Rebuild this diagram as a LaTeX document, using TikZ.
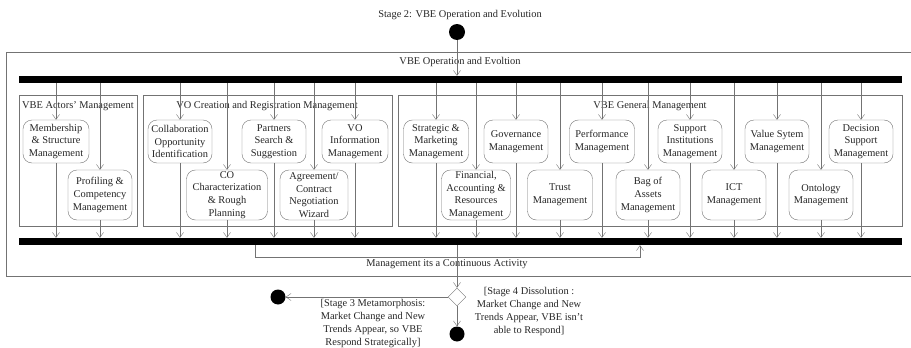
\documentclass[tikz,border=0pt]{standalone}
\usepackage{fontspec}
\setmainfont{Liberation Serif}
\usetikzlibrary{arrows.meta,shapes.geometric}
\tikzset{
  act/.style={draw=black!55, rounded corners=9pt, align=center, inner sep=0pt, minimum height=43pt, minimum width=64pt},
  low/.style={act, minimum height=50pt},
  grp/.style={draw=black!55, inner sep=0pt, minimum height=131pt},
  bar/.style={fill=black, inner sep=0pt, minimum width=883pt, minimum height=7pt},
  dot/.style={circle, fill=black, inner sep=0pt, minimum size=16pt},
  choice/.style={diamond, draw=black!55, inner sep=0pt, minimum width=18pt, minimum height=18pt},
  flow/.style={draw=black!55, -{Straight Barb[length=5pt,width=7pt]}},
  lbl/.style={align=center, inner sep=0pt}
}
\begin{document}
\begin{tikzpicture}[x=1pt, y=-1pt, font=\fontsize{10.4}{12.7}\selectfont, text=black!85]
	\useasboundingbox (0,0) rectangle (911,348);
	\draw[black!55] (920,52) -- (6,52) -- (6,276) -- (920,276);
	\node[lbl, anchor=base] at (460,17.5) (title) {Stage 2: VBE Operation and Evolution};
	\node[lbl, anchor=base] at (460,64.5) (frameT) {VBE Operation and Evoltion};
	\node[dot] at (457,32) (start) {};
	\node[bar] at (460.5,79.5) (fork) {};
	\node[bar] at (460.5,241.5) (join) {};
	\node[grp, minimum width=118pt] at (78,160.5) (actors) {};
	\node[grp, minimum width=249pt] at (267.5,160.5) (vo) {};
	\node[grp, minimum width=504pt] at (650,160.5) (gen) {};
	\node[lbl, anchor=base west] at (22,108) (actorsT) {VBE Actors' Management};
	\node[lbl, anchor=base] at (267,108) (voT) {VO Creation and Registration Management};
	\node[lbl, anchor=base] at (650,108) (genT) {VBE General Management};
	\node[act, minimum width=66pt] at (56,141.5) (m1) {Membership\\ \& Structure\\ Management};
	\node[low] at (100,195) (m2) {Profiling \&\\ Competency\\ Management};
	\node[act] at (180,141.5) (v1) {Collaboration\\ Opportunity\\ Identification};
	\node[low, minimum width=81pt] at (227,195) (v2) {CO\\ Characterization\\ \& Rough\\ Planning};
	\node[act] at (274,141.5) (v3) {Partners\\ Search \&\\ Suggestion};
	\node[low, minimum width=68pt] at (314,195) (v4) {Agreement/\\ Contract\\ Negotiation\\ Wizard};
	\node[act, minimum width=66pt] at (355,141.5) (v5) {VO\\ Information\\ Management};
	\node[act, minimum width=65pt] at (436,141.5) (g1) {Strategic \&\\ Marketing\\ Management};
	\node[low, minimum width=69pt] at (476,195) (g2) {Financial,\\ Accounting \&\\ Resources\\ Management};
	\node[act] at (516,141.5) (g3) {Governance\\ Management};
	\node[low, minimum width=65pt] at (560,195) (g4) {Trust\\ Management};
	\node[act, minimum width=65pt] at (602,141.5) (g5) {Performance\\ Management};
	\node[low] at (648,195) (g6) {Bag of\\ Assets\\ Management};
	\node[act] at (690,141.5) (g7) {Support\\ Institutions\\ Management};
	\node[low] at (734,195) (g8) {ICT\\ Management};
	\node[act] at (777,141.5) (g9) {Value Sytem\\ Management};
	\node[low] at (821,195) (g10) {Ontology\\ Management};
	\node[act] at (861,141.5) (g11) {Decision\\ Support\\ Management};
	\draw[flow] (start) -- (start |- fork.north);
	\foreach \n in {m1,m2,v1,v2,v3,v4,v5,g1,g2,g3,g4,g5,g6,g7,g8,g9,g10,g11} {
		\draw[flow] (\n.north |- fork.south) -- (\n.north);
		\draw[flow] (\n.south) -- (\n.south |- join.north);
	}
	\coordinate (loopA) at (255,257.5);
	\coordinate (loopB) at (640,257.5);
	\draw[flow] (join.south -| loopA) -- (loopA) -- (loopB) -- (join.south -| loopB);
	\node[lbl, anchor=base] at (447,266.5) (loopT) {Management its a Continuous Activity};
	\node[choice] at (457,297) (dec) {};
	\node[dot, minimum size=15pt] at (278,297) (meta) {};
	\node[dot, minimum size=15pt] at (457,334) (diss) {};
	\draw[flow] (join.south -| dec) -- (dec.north);
	\path[flow] (dec) edge (meta)
	(dec) edge (diss);
	\node[lbl] at (373,323.5) (metaT) {[Stage 3 Metamorphosis:\\ Market Change and New\\ Trends Appear, so VBE\\ Respond Strategically]};
	\node[lbl] at (529,311.5) (dissT) {[Stage 4 Dissolution :\\ Market Change and New\\ Trends Appear, VBE isn't\\ able to Respond]};
\end{tikzpicture}
\end{document}
